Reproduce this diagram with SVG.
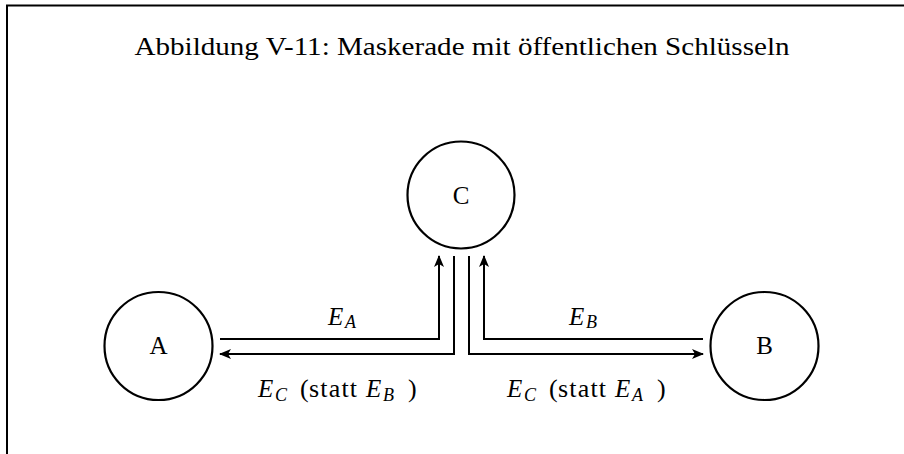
<svg xmlns="http://www.w3.org/2000/svg" width="904" height="454" viewBox="0 0 904 454">
<style>
.t{font-family:"Liberation Serif","DejaVu Serif",serif;font-size:26px;fill:#000}
.h{font-size:25px}
.l{font-size:25px}
.m{font-style:italic;font-size:25px}
.s{font-size:18px}
.n{fill:none;stroke:#000;stroke-width:2}
.c{fill:none;stroke:#000;stroke-width:2.2}
</style>
<defs>
<marker id="ah" markerWidth="12" markerHeight="10" refX="11" refY="5" orient="auto" markerUnits="userSpaceOnUse">
<path d="M0,0 L12,5 L0,10 L3,5 Z" fill="#000"/>
</marker>
</defs>
<rect width="904" height="454" fill="#fff"/>
<path class="n" d="M7,454 V5.5 H904"/>
<text class="t h" x="462" y="55" text-anchor="middle" textLength="655" lengthAdjust="spacingAndGlyphs">Abbildung V-11: Maskerade mit öffentlichen Schlüsseln</text>
<g id="C"><circle class="c" cx="461" cy="195" r="53.5"/><text class="t l" x="461" y="203.5" text-anchor="middle">C</text></g>
<g id="A"><circle class="c" cx="158.5" cy="346" r="54"/><text class="t l" x="158.5" y="354" text-anchor="middle">A</text></g>
<g id="B"><circle class="c" cx="764.5" cy="346" r="54"/><text class="t l" x="764.5" y="354" text-anchor="middle">B</text></g>
<g id="connectors">
<path class="n" d="M220,339 H439 V256" marker-end="url(#ah)"/>
<path class="n" d="M454,256 V354 H220" marker-end="url(#ah)"/>
<path class="n" d="M703,339 H484 V256" marker-end="url(#ah)"/>
<path class="n" d="M469,256 V354 H703" marker-end="url(#ah)"/>
</g>
<g id="labels">
<text class="t" y="325"><tspan class="m" x="328">E</tspan><tspan class="m s" x="345" dy="3">A</tspan></text>
<text class="t" y="325"><tspan class="m" x="569">E</tspan><tspan class="m s" x="586" dy="3">B</tspan></text>
<text class="t" y="397"><tspan class="m" x="258">E</tspan><tspan class="m s" x="275" dy="4">C</tspan><tspan x="300" dy="-4">(</tspan><tspan x="309" textLength="48" lengthAdjust="spacing">statt</tspan><tspan class="m" x="366">E</tspan><tspan class="m s" x="383" dy="4">B</tspan><tspan x="408" dy="-4">)</tspan></text>
<text class="t" y="397"><tspan class="m" x="507">E</tspan><tspan class="m s" x="524" dy="4">C</tspan><tspan x="549" dy="-4">(</tspan><tspan x="558" textLength="48" lengthAdjust="spacing">statt</tspan><tspan class="m" x="615">E</tspan><tspan class="m s" x="632" dy="4">A</tspan><tspan x="657" dy="-4">)</tspan></text>
</g>
</svg>
